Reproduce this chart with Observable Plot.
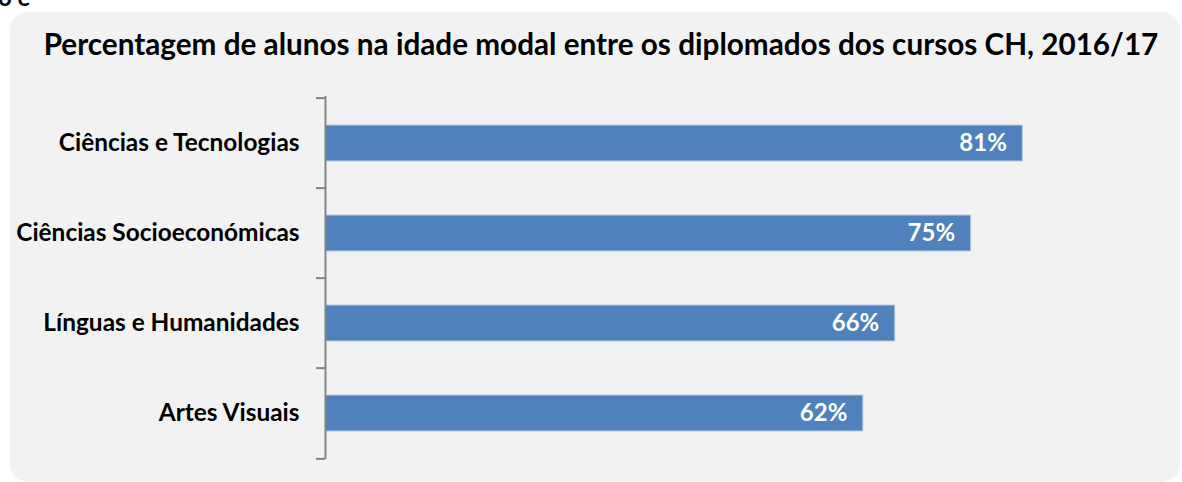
<!DOCTYPE html>
<html>
<head>
<meta charset="utf-8">
<script src="https://cdn.jsdelivr.net/npm/d3@7"></script>
<script src="https://cdn.jsdelivr.net/npm/@observablehq/plot@0.6"></script>
<style>
  html, body { margin: 0; padding: 0; background: #ffffff; }
  body { width: 1182px; height: 482px; position: relative; overflow: hidden; font-family: Lato, "Open Sans", sans-serif; }
  #stub { position: absolute; left: -2px; top: -18px; font: bold 24px Lato, sans-serif; color: #000; }
  #card { position: absolute; left: 10px; top: 12px; width: 1170px; height: 470px; background: #f2f2f2; border-radius: 18px; }
  #title { position: absolute; left: 16px; top: 26px; width: 1170px; text-align: center; font: bold 29.7px Lato, sans-serif; color: #000; white-space: nowrap; }
  #chart { position: absolute; left: 0; top: 0; }
  #chart svg { background: transparent; overflow: visible; }
</style>
</head>
<body>
<div id="stub">o e</div>
<div id="card"></div>
<div id="title">Percentagem de alunos na idade modal entre os diplomados dos cursos CH, 2016/17</div>
<div id="chart"></div>
<script>
const categories = ["Ciências e Tecnologias", "Ciências Socioeconómicas", "Línguas e Humanidades", "Artes Visuais"];
const values = [80.9, 74.9, 66.1, 62.4];
const valueLabels = ["81%", "75%", "66%", "62%"];

const data = categories.map((c, i) => ({category: c, value: values[i], label: valueLabels[i]}));

const W = 1182, H = 482, mTop = 96, mBottom = 23, mLeft = 325;
const step = (H - mTop - mBottom) / categories.length;

const plot = Plot.plot({
  width: W,
  height: H,
  marginTop: mTop,
  marginBottom: mBottom,
  marginLeft: mLeft,
  marginRight: 0,
  style: {background: "transparent"},
  x: {domain: [0, 100], range: [mLeft, mLeft + 862], axis: null},
  y: {domain: categories, paddingInner: 0.6, paddingOuter: 0.3, label: null},
  marks: [
    Plot.barX(data, {x: "value", y: "category", fill: "#4f81bd", stroke: "#b9cde5", strokeWidth: 1}),
    Plot.text(data, {x: "value", y: "category", text: "label", textAnchor: "end", dx: -16, fill: "#ffffff",
      fontSize: 24, fontWeight: "bold", fontFamily: "Lato, sans-serif"}),
    Plot.ruleX([0], {stroke: "#868686", strokeWidth: 2}),
    Plot.ruleY(categories, {y: d => d, x1: 0, x2: 0, insetLeft: -9, dy: -step / 2, stroke: "#868686", strokeWidth: 2}),
    Plot.ruleY(categories.slice(-1), {y: d => d, x1: 0, x2: 0, insetLeft: -9, dy: step / 2, stroke: "#868686", strokeWidth: 2}),
    Plot.axisY({tickSize: 0, tickPadding: 26, fontSize: 24.4, fontWeight: "bold", fontFamily: "Lato, sans-serif", fill: "#000", label: null})
  ]
});
document.getElementById("chart").appendChild(plot);
</script>
</body>
</html>
